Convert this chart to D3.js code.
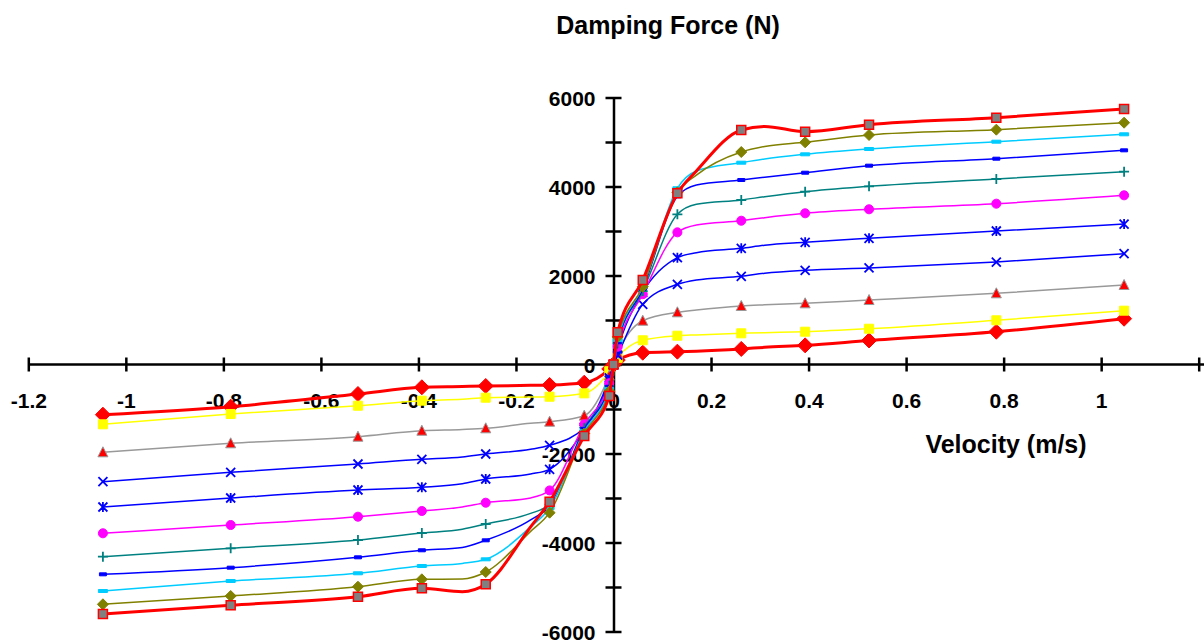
<!DOCTYPE html>
<html>
<head>
<meta charset="utf-8">
<script src="https://cdn.jsdelivr.net/npm/d3@7"></script>
<style>
  html, body { margin: 0; padding: 0; background: #fff; }
  svg { display: block; }
  text { font-family: "Liberation Sans", Arial, sans-serif; font-weight: bold; fill: #000; }
</style>
</head>
<body>
<svg id="chart" width="1204" height="644"></svg>
<script>
// Velocity grid (m/s) shared by every curve
const velocity = [-1.047, -0.785, -0.524, -0.393, -0.31, -0.262, -0.17, -0.131, -0.06, -0.0087, 0,
                  0.0087, 0.06, 0.131, 0.17, 0.262, 0.31, 0.393, 0.524, 0.785, 1.047];
// Velocities at which measured points carry a marker
const markerVelocity = [-1.047, -0.785, -0.524, -0.393, -0.262, -0.131, -0.06, -0.0087, 0,
                        0.0087, 0.06, 0.131, 0.262, 0.393, 0.524, 0.785, 1.047];

// Damping force (N) for each damper setting, ordered from stiffest to softest
const forceS1 = [-5607, -5411, -5218, -5029, -5106, -4939, -3650, -3083, -1607, -708, 0,
                 724, 1899, 3847, 4350, 5270, 5350, 5232, 5389, 5546, 5742];
const forceS2 = [-5389, -5202, -4993, -4827, -4820, -4663, -3750, -3330, -1550, -600, 0,
                 620, 1748, 3870, 4256, 4775, 4900, 4993, 5157, 5277, 5434];
const forceS3 = [-5090, -4865, -4692, -4528, -4470, -4378, -3650, -3225, -1500, -550, 0,
                 550, 1750, 3960, 4348, 4535, 4620, 4723, 4843, 5007, 5173];
const forceS4 = [-4715, -4566, -4333, -4175, -4110, -3951, -3494, -3180, -1450, -500, 0,
                 500, 1700, 3780, 4034, 4146, 4210, 4310, 4468, 4625, 4813];
const forceS5 = [-4319, -4130, -3944, -3787, -3700, -3584, -3345, -3150, -1420, -480, 0,
                 480, 1650, 3375, 3600, 3697, 3770, 3883, 4004, 4169, 4333];
const forceS6 = [-3793, -3607, -3420, -3292, -3200, -3106, -3000, -2830, -1344, -420, 0,
                 400, 1580, 2970, 3135, 3231, 3300, 3398, 3488, 3614, 3802];
const forceS7 = [-3202, -3000, -2820, -2760, -2680, -2573, -2461, -2355, -1460, -350, 0,
                 350, 1620, 2400, 2512, 2611, 2680, 2746, 2836, 3000, 3157];
const forceS8 = [-2634, -2423, -2236, -2131, -2080, -2011, -1906, -1816, -1420, -300, 0,
                 213, 1353, 1802, 1899, 1982, 2050, 2117, 2169, 2303, 2490];
const forceS9 = [-1973, -1771, -1622, -1488, -1460, -1434, -1322, -1285, -1150, -250, 0,
                 250, 984, 1173, 1225, 1315, 1340, 1375, 1449, 1600, 1787];
const forceS10 = [-1344, -1112, -926, -813, -780, -746, -730, -724, -648, -150, 0,
                  150, 544, 647, 665, 701, 715, 737, 804, 993, 1209];
const forceS11 = [-1128, -948, -663, -512, -495, -483, -468, -461, -409, -100, 0,
                  100, 265, 288, 300, 350, 385, 430, 540, 737, 1029];

// Axis ticks
const xTicks = [-1.2, -1, -0.8, -0.6, -0.4, -0.2, 0, 0.2, 0.4, 0.6, 0.8, 1, 1.2];
const xTickLabels = ["-1.2", "-1", "-0.8", "-0.6", "-0.4", "-0.2", "0", "0.2", "0.4", "0.6", "0.8", "1", ""];
const yTicks = [-6000, -5000, -4000, -3000, -2000, -1000, 0, 1000, 2000, 3000, 4000, 5000, 6000];
const yTickLabels = ["-6000", "", "-4000", "", "-2000", "", "0", "", "2000", "", "4000", "", "6000"];

const svg = d3.select("#chart");
const x = d3.scaleLinear().domain([-1.2, 1.2]).range([28.3, 1198.7]);
const y = d3.scaleLinear().domain([-6000, 6000]).range([631.5, 97.5]);

// Series appearance (drawn softest first so the stiffest curve sits on top)
const series = [
  { values: forceS11, color: "#ff0000", width: 3,   marker: "diamondBig", fill: "#ff0000", stroke: "#ff0000" },
  { values: forceS10, color: "#ffff00", width: 1.5, marker: "square",     fill: "#ffff00", stroke: "#ffff00" },
  { values: forceS9,  color: "#999999", width: 1.5, marker: "triangle",   fill: "#ff0000", stroke: "#999999" },
  { values: forceS8,  color: "#0000ff", width: 1.5, marker: "times",      fill: "none",    stroke: "#0000ff" },
  { values: forceS7,  color: "#0000ff", width: 1.5, marker: "asterisk",   fill: "none",    stroke: "#0000ff" },
  { values: forceS6,  color: "#ff00ff", width: 1.5, marker: "circle",     fill: "#ff00ff", stroke: "#ff00ff" },
  { values: forceS5,  color: "#008080", width: 1.5, marker: "plus",       fill: "none",    stroke: "#008080" },
  { values: forceS4,  color: "#0000ff", width: 1.5, marker: "dashSmall",  fill: "#0000ff", stroke: "#0000ff" },
  { values: forceS3,  color: "#00ccff", width: 1.5, marker: "dash",       fill: "#00ccff", stroke: "#00ccff" },
  { values: forceS2,  color: "#808000", width: 1.5, marker: "diamond",    fill: "#808000", stroke: "#808000" },
  { values: forceS1,  color: "#ff0000", width: 3,   marker: "squareEdge", fill: "#808080", stroke: "#ff0000" }
];

const markerPath = {
  diamondBig: "M0,-7.5L7.5,0L0,7.5L-7.5,0Z",
  diamond:    "M0,-5.5L5.5,0L0,5.5L-5.5,0Z",
  square:     "M-4.5,-4.5H4.5V4.5H-4.5Z",
  squareEdge: "M-4.5,-4.5H4.5V4.5H-4.5Z",
  triangle:   "M0,-5.5L5,4.5H-5Z",
  circle:     d3.symbol(d3.symbolCircle, 64)(),
  plus:       "M-5,0H5M0,-5V5",
  times:      "M-4.5,-4.5L4.5,4.5M-4.5,4.5L4.5,-4.5",
  asterisk:   "M-4.5,-4.5L4.5,4.5M-4.5,4.5L4.5,-4.5M0,-5V5",
  dash:       "M-4.5,-1.5H4.5V1.5H-4.5Z",
  dashSmall:  "M-3.5,-1.5H3.5V1.5H-3.5Z"
};

const line = d3.line()
  .x(d => x(d[0]))
  .y(d => y(d[1]))
  .curve(d3.curveMonotoneX);

// Axes
const xAxis = svg.append("g")
  .attr("transform", `translate(0,${y(0)})`)
  .call(d3.axisBottom(x).tickValues(xTicks).tickFormat((d, i) => xTickLabels[i]).tickSizeOuter(0));
xAxis.select(".domain").attr("d", `M${x(-1.2)},0H1204`).attr("stroke", "#000").attr("stroke-width", 2.5);
xAxis.selectAll(".tick line").attr("y1", -7).attr("y2", 7).attr("stroke", "#000").attr("stroke-width", 2.5);
xAxis.selectAll(".tick text").attr("y", 43).attr("dy", null).attr("font-size", 21).attr("font-family", null);

const yAxis = svg.append("g")
  .attr("transform", `translate(${x(0)},0)`)
  .call(d3.axisLeft(y).tickValues(yTicks).tickFormat((d, i) => yTickLabels[i]).tickSizeOuter(0));
yAxis.select(".domain").attr("stroke", "#000").attr("stroke-width", 2.5);
yAxis.selectAll(".tick line").attr("x1", -8).attr("x2", 8).attr("stroke", "#000").attr("stroke-width", 2.5);
yAxis.selectAll(".tick text").attr("x", -18).attr("dy", "0.36em").attr("font-size", 21).attr("font-family", null);

// Curves and markers
series.forEach(s => {
  const pts = velocity.map((v, i) => [v, s.values[i]]);
  svg.append("path")
    .datum(pts)
    .attr("fill", "none")
    .attr("stroke", s.color)
    .attr("stroke-width", s.width)
    .attr("stroke-linejoin", "round")
    .attr("d", line);
  svg.append("g")
    .selectAll("path")
    .data(pts.filter(p => markerVelocity.includes(p[0])))
    .join("path")
    .attr("transform", d => `translate(${x(d[0])},${y(d[1])})`)
    .attr("d", markerPath[s.marker])
    .attr("fill", s.fill)
    .attr("stroke", s.stroke)
    .attr("stroke-width", s.marker === "squareEdge" ? 1.5 : (s.fill === "none" ? 1.8 : 1));
});

// Axis titles
svg.append("text").attr("x", 668).attr("y", 34).attr("text-anchor", "middle")
  .attr("font-size", 25).text("Damping Force (N)");
svg.append("text").attr("x", 1006).attr("y", 453).attr("text-anchor", "middle")
  .attr("font-size", 25).text("Velocity (m/s)");
</script>
</body>
</html>
